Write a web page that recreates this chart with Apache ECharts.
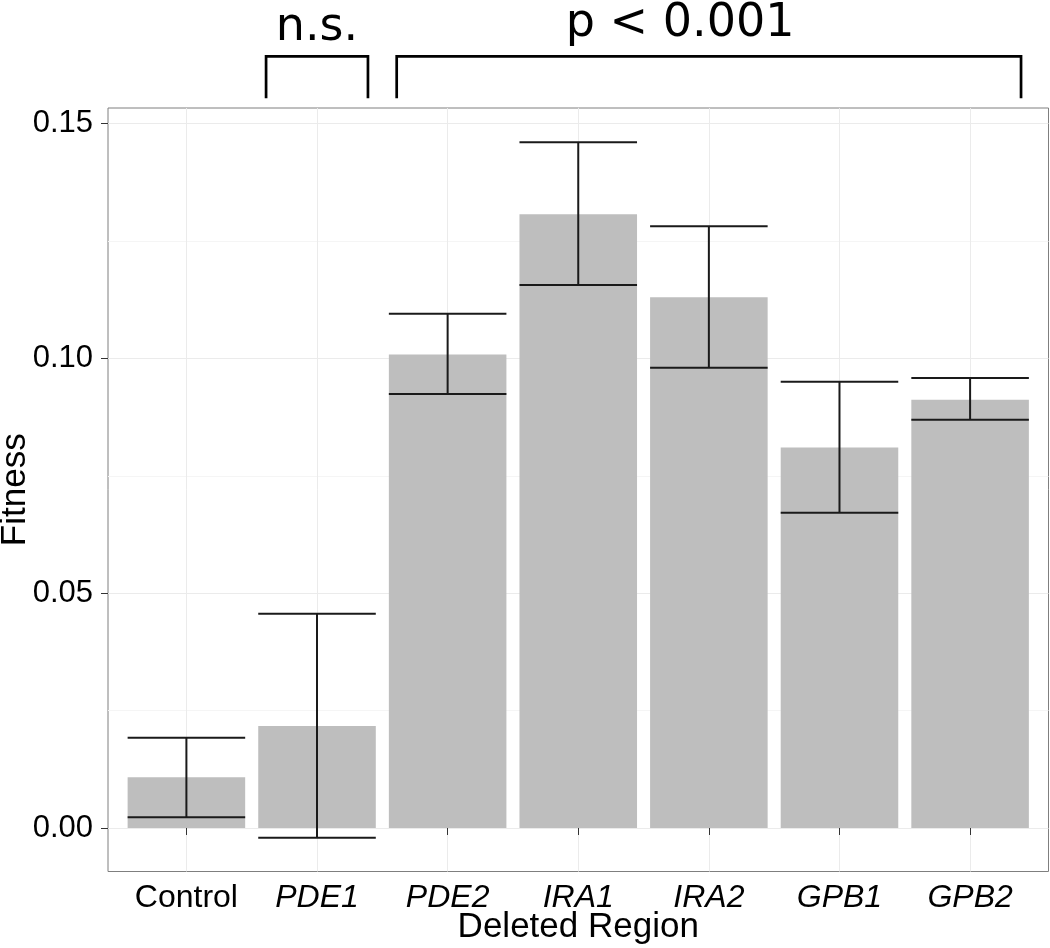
<!DOCTYPE html>
<html>
<head>
<meta charset="utf-8">
<script src="https://cdn.jsdelivr.net/npm/echarts@6/dist/echarts.min.js"></script>
<style>
html,body{margin:0;padding:0;background:#fff;}
#chart{width:1050px;height:948px;}
</style>
</head>
<body>
<div id="chart"></div>
<script>
// ---- data ----
const categories = ['Control', 'PDE1', 'PDE2', 'IRA1', 'IRA2', 'GPB1', 'GPB2'];
const fitness    = [0.0108, 0.0217, 0.1008, 0.1307, 0.1130, 0.0810, 0.0912];
const errLow     = [0.0023, -0.0021, 0.0924, 0.1156, 0.0980, 0.0671, 0.0869];
const errHigh    = [0.0192, 0.0456, 0.1095, 0.1460, 0.1281, 0.0950, 0.0958];
const yTicks     = [0, 0.05, 0.10, 0.15];

// significance brackets (category index ranges) and their labels
const bracketFrom   = [1, 2];
const bracketTo     = [1, 6];
const bracketLabels = ['n.s.', 'p < 0.001'];
const bracketLabelX = [1.0, 3.78];
const bracketLabelY = [0.1704, 0.1712];
const bracketTop    = 0.1643;
const bracketBottom = 0.1554;

const FONT = 'Liberation Sans, Arial, Helvetica, sans-serif';

const chart = echarts.init(document.getElementById('chart'), null, {renderer: 'canvas'});

const option = {
  backgroundColor: '#ffffff',
  animation: false,
  grid: [
    {left: 108, top: 108, width: 940.5, height: 763.5, show: true, outerBoundsMode: 'none', containLabel: false,
     borderColor: '#7f7f7f', borderWidth: 1, backgroundColor: 'transparent'},
    {left: 108, top: 123.5, width: 940.5, height: 704.5, outerBoundsMode: 'none', containLabel: false},
    {left: 186.4, top: 108, width: 783.7, height: 763.5, outerBoundsMode: 'none', containLabel: false}
  ],
  xAxis: [
    {gridIndex: 0, type: 'value', min: 0, max: 1,
     name: 'Deleted Region', nameLocation: 'middle', nameGap: 38,
     nameTextStyle: {fontSize: 35, color: '#000', fontFamily: FONT},
     axisLine: {show: false}, axisTick: {show: false}, axisLabel: {show: false}, splitLine: {show: false}},
    {gridIndex: 1, type: 'value', min: 0, max: 1, show: false},
    {gridIndex: 2, type: 'category', data: categories, boundaryGap: false,
     axisLine: {show: false},
     axisTick: {show: true, length: 7, interval: 0, lineStyle: {color: '#333', width: 1}},
     axisLabel: {interval: 0, margin: 11, fontSize: 32, color: '#000', fontFamily: FONT,
       formatter: function (v) { return v === 'Control' ? '{n|' + v + '}' : '{i|' + v + '}'; },
       rich: {
         n: {fontSize: 32, fontFamily: FONT, color: '#000'},
         i: {fontSize: 32, fontFamily: FONT, color: '#000', fontStyle: 'italic'}
       }},
     splitLine: {show: true, interval: 0, lineStyle: {color: '#ebebeb', width: 1}}}
  ],
  yAxis: [
    {gridIndex: 0, type: 'value', min: 0, max: 1,
     name: 'Fitness', nameLocation: 'middle', nameGap: 75, nameRotate: 90,
     nameTextStyle: {fontSize: 35, color: '#000', fontFamily: FONT},
     axisLine: {show: false}, axisTick: {show: false}, axisLabel: {show: false}, splitLine: {show: false}},
    {gridIndex: 1, type: 'value', min: yTicks[0], max: yTicks[yTicks.length - 1], interval: 0.05,
     axisLine: {show: false},
     axisTick: {show: true, length: 7, lineStyle: {color: '#333', width: 1}},
     axisLabel: {margin: 15, fontSize: 31, color: '#000', fontFamily: FONT,
       formatter: function (v) { return v.toFixed(2); }},
     splitLine: {show: true, lineStyle: {color: '#ebebeb', width: 1}},
     minorTick: {show: false, splitNumber: 2},
     minorSplitLine: {show: true, lineStyle: {color: '#f5f5f5', width: 1}}},
    {gridIndex: 2, type: 'value', min: -0.009262, max: 0.1533, show: false}
  ],
  series: [
    {
      type: 'bar', xAxisIndex: 2, yAxisIndex: 2, z: 2,
      data: fitness, barWidth: '90%', clip: false, silent: true,
      itemStyle: {color: '#bebebe'}
    },
    {
      type: 'custom', xAxisIndex: 2, yAxisIndex: 2, clip: false, silent: true, z: 5,
      data: categories.map(function (c, i) { return [i, errLow[i], errHigh[i]]; }),
      encode: {x: 0, y: [1, 2]},
      renderItem: function (params, api) {
        const i = api.value(0);
        const lo = api.coord([i, api.value(1)]);
        const hi = api.coord([i, api.value(2)]);
        const hw = api.size([1, 0])[0] * 0.45;
        const st = {stroke: '#1a1a1a', lineWidth: 2, fill: null};
        return {type: 'group', children: [
          {type: 'line', shape: {x1: lo[0], y1: lo[1], x2: hi[0], y2: hi[1]}, style: st},
          {type: 'line', shape: {x1: hi[0] - hw, y1: hi[1], x2: hi[0] + hw, y2: hi[1]}, style: st},
          {type: 'line', shape: {x1: lo[0] - hw, y1: lo[1], x2: lo[0] + hw, y2: lo[1]}, style: st}
        ]};
      }
    },
    {
      type: 'custom', xAxisIndex: 2, yAxisIndex: 2, clip: false, silent: true, z: 5,
      data: bracketFrom.map(function (f, k) { return [f, bracketTo[k], bracketLabelX[k], bracketLabelY[k]]; }),
      encode: {x: [0, 1], y: 3},
      renderItem: function (params, api) {
        const k = params.dataIndex;
        const bw = api.size([1, 0])[0];
        const from = api.value(0), to = api.value(1);
        const pTop = api.coord([from, bracketTop]);
        const pBot = api.coord([from, bracketBottom]);
        const xl = pTop[0] - 0.39 * bw;
        const xr = api.coord([to, bracketTop])[0] + 0.39 * bw;
        const lx = bracketLabelX[k];
        const base = Math.floor(lx);
        const lp = api.coord([base, bracketLabelY[k]]);
        return {type: 'group', children: [
          {type: 'polyline',
           shape: {points: [[xl, pBot[1]], [xl, pTop[1]], [xr, pTop[1]], [xr, pBot[1]]]},
           style: {stroke: '#000', lineWidth: 2.7, fill: null, lineJoin: 'miter'}},
          {type: 'text',
           style: {x: lp[0] + (lx - base) * bw, y: lp[1], text: bracketLabels[k],
                   fontSize: 46, fontFamily: 'DejaVu Sans', fill: '#000',
                   align: 'center', verticalAlign: 'middle'}}
        ]};
      }
    }
  ]
};
chart.setOption(option);
</script>
</body>
</html>
